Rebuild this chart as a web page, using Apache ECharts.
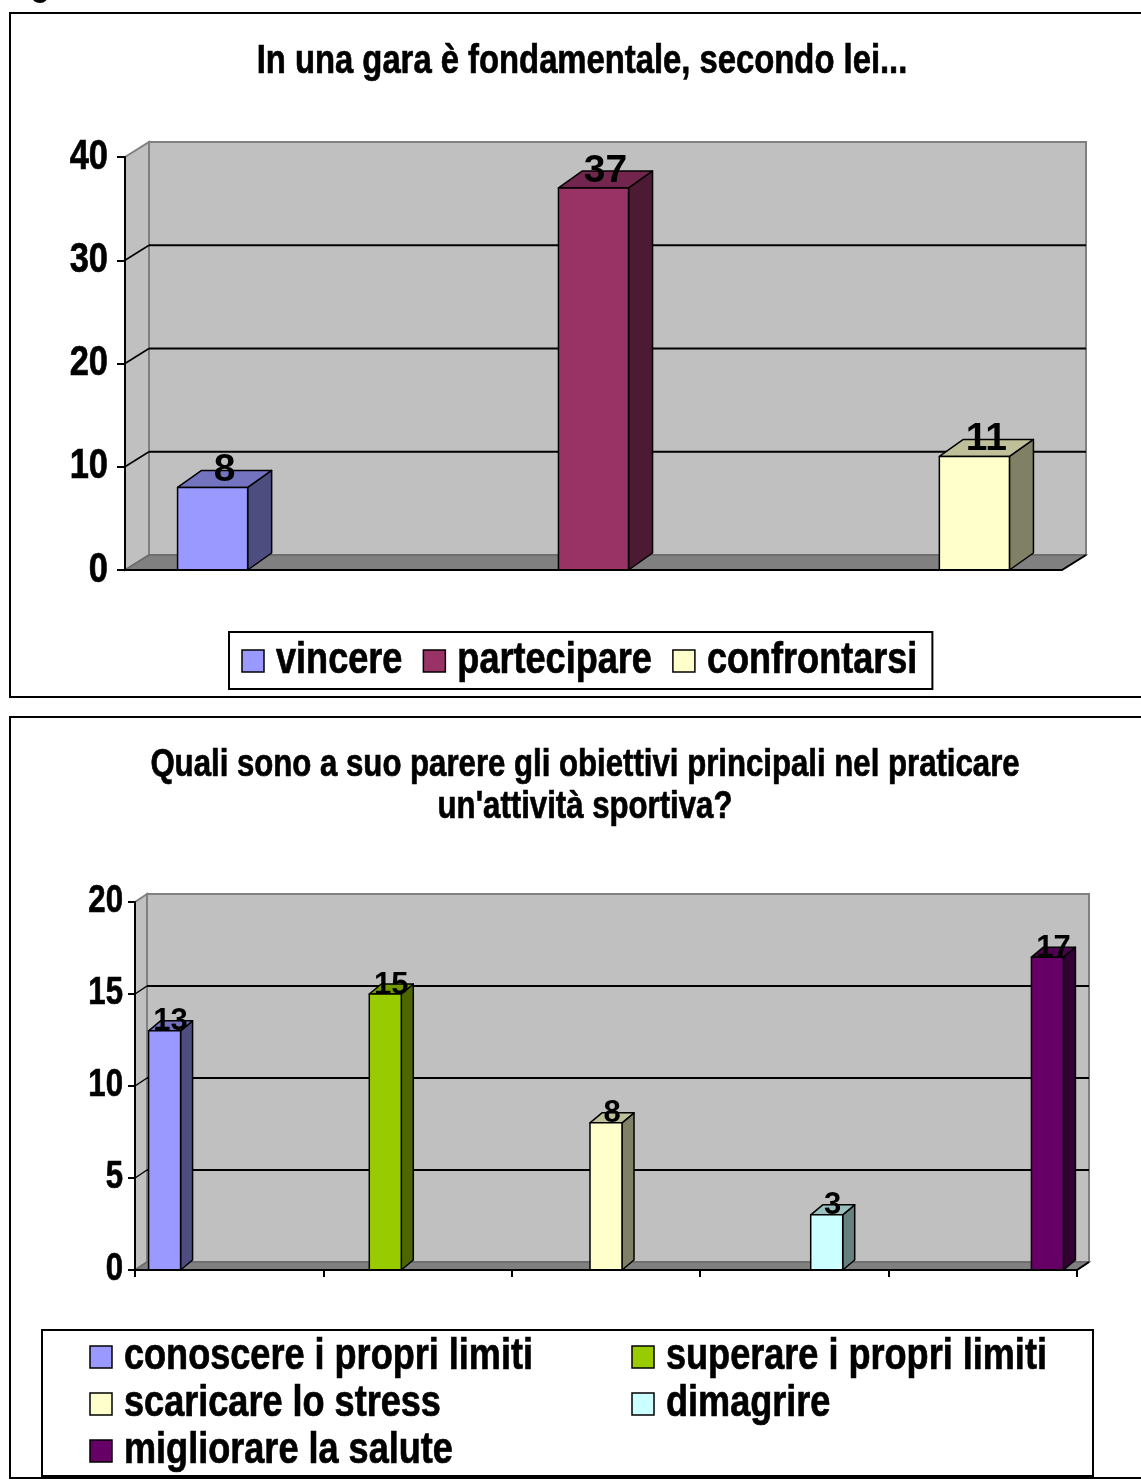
<!DOCTYPE html>
<html>
<head>
<meta charset="utf-8">
<script src="https://cdn.jsdelivr.net/npm/echarts@6/dist/echarts.min.js"></script>
<style>
  html, body { margin: 0; padding: 0; background: #fff; }
  #chart { width: 1141px; height: 1481px; }
</style>
</head>
<body>
<div id="chart"></div>
<script>
// ---- Chart 1: "In una gara è fondamentale, secondo lei..." ----
const garaTitle = 'In una gara è fondamentale, secondo lei...';
const garaCategories = ['vincere', 'partecipare', 'confrontarsi'];
const garaValues = [8, 37, 11];
const garaTicks = [0, 10, 20, 30, 40];
const garaColors = ['#9999ff', '#993366', '#ffffcc'];

// ---- Chart 2: obiettivi dell'attività sportiva ----
const obiettiviTitle = "Quali sono a suo parere gli obiettivi principali nel praticare\nun'attività sportiva?";
const obiettiviCategories = ['conoscere i propri limiti', 'superare i propri limiti', 'scaricare lo stress', 'dimagrire', 'migliorare la salute'];
const obiettiviValues = [13, 15, 8, 3, 17];
const obiettiviTicks = [0, 5, 10, 15, 20];
const obiettiviColors = ['#9999ff', '#99cc00', '#ffffcc', '#ccffff', '#660066'];

const SANS = "'Liberation Sans', Arial, sans-serif";
const NARROW_X = 0.82;   // horizontal squeeze for the narrow bold lettering
const HEAVY = { stroke: '#000', lineWidth: 0.7 };   // extra weight for the squeezed lettering

// x ranges of the hidden positioning axes (bars sit at 0..n-1)
const garaRange = [-0.23, 2.23];
const obiettiviRange = [-0.134, 4.134];

function shade(hex, f) {
  const n = parseInt(hex.slice(1), 16);
  const r = Math.round(((n >> 16) & 255) * f);
  const g = Math.round(((n >> 8) & 255) * f);
  const b = Math.round((n & 255) * f);
  return 'rgb(' + r + ',' + g + ',' + b + ')';
}

const measureCtx = document.createElement('canvas').getContext('2d');
function narrowWidth(text, size) {
  measureCtx.font = 'bold ' + size + 'px ' + SANS;
  return measureCtx.measureText(text).width * NARROW_X;
}

// Walls, floor, gridlines and tick labels of the 3D box, taken from the axis scales
function frameRenderer(xr, ticks, depth, labelSize, labelMargin) {
  return function (params, api) {
    const yMin = ticks[0], yMax = ticks[ticks.length - 1];
    const fl = api.coord([xr[0], yMin]);
    const fr = api.coord([xr[1], yMin]);
    const tl = api.coord([xr[0], yMax]);
    const dx = depth[0], dy = depth[1];
    const kids = [];
    kids.push({ type: 'polygon', shape: { points: [[fl[0], tl[1]], [fl[0], fl[1]], [fl[0] + dx, fl[1] + dy], [fl[0] + dx, tl[1] + dy]] },
      style: { fill: '#c0c0c0', stroke: '#808080', lineWidth: 2 } });
    kids.push({ type: 'rect', shape: { x: fl[0] + dx, y: tl[1] + dy, width: fr[0] - fl[0], height: fl[1] - tl[1] },
      style: { fill: '#c0c0c0', stroke: '#808080', lineWidth: 2 } });
    ticks.slice(1, -1).forEach(function (t) {
      const p = api.coord([xr[0], t]);
      kids.push({ type: 'line', shape: { x1: p[0] + dx, y1: p[1] + dy, x2: fr[0] + dx, y2: p[1] + dy },
        style: { stroke: '#000', lineWidth: 2 } });
      kids.push({ type: 'line', shape: { x1: p[0], y1: p[1], x2: p[0] + dx, y2: p[1] + dy },
        style: { stroke: '#000', lineWidth: 1.5 } });
    });
    kids.push({ type: 'polygon', shape: { points: [[fl[0], fl[1]], [fr[0], fr[1]], [fr[0] + dx, fr[1] + dy], [fl[0] + dx, fl[1] + dy]] },
      style: { fill: '#808080', stroke: '#6a6a6a', lineWidth: 1.5 } });
    kids.push({ type: 'line', shape: { x1: fr[0], y1: fr[1], x2: fr[0] + dx, y2: fr[1] + dy },
      style: { stroke: '#000', lineWidth: 2 } });
    ticks.forEach(function (t) {
      const p = api.coord([xr[0], t]);
      kids.push({ type: 'text', x: p[0] - labelMargin, y: p[1], scaleX: NARROW_X,
        style: Object.assign({ text: String(t), x: 0, y: 0, textAlign: 'right', textVerticalAlign: 'middle',
          font: 'bold ' + labelSize + 'px ' + SANS, fill: '#000' }, HEAVY) });
    });
    return { type: 'group', children: kids };
  };
}

// A 3D column: front face, shaded top and shaded side, with its value on top
function barRenderer(barWidth, depth, labelSize, labelLift) {
  return function (params, api) {
    const x = api.value(0), v = api.value(1);
    const b = api.coord([x, 0]);
    const t = api.coord([x, v]);
    const w = api.size([barWidth, 0])[0];
    const l = b[0] - w / 2, r = b[0] + w / 2;
    const dx = depth[0], dy = depth[1];
    const c = api.visual('color');
    const edge = { stroke: '#000', lineWidth: 1.5, lineJoin: 'round' };
    return {
      type: 'group',
      children: [
        { type: 'polygon', shape: { points: [[r, t[1]], [r + dx, t[1] + dy], [r + dx, b[1] + dy], [r, b[1]]] },
          style: Object.assign({ fill: shade(c, 0.5) }, edge) },
        { type: 'polygon', shape: { points: [[l, t[1]], [r, t[1]], [r + dx, t[1] + dy], [l + dx, t[1] + dy]] },
          style: Object.assign({ fill: shade(c, 0.75) }, edge) },
        { type: 'rect', shape: { x: l, y: t[1], width: w, height: b[1] - t[1] },
          style: Object.assign({ fill: c }, edge) },
        { type: 'text', x: b[0] + dx / 2, y: t[1] - labelLift,
          style: { text: String(v), textAlign: 'center', textVerticalAlign: 'middle',
            font: 'bold ' + labelSize + 'px ' + SANS, fill: '#000' } }
      ]
    };
  };
}

// Legend entry: bordered colour square followed by its name
function legendItem(x, yMid, color, name) {
  return [
    { type: 'rect', shape: { x: x, y: yMid - 11, width: 22, height: 22 }, silent: true,
      style: { fill: color, stroke: '#000', lineWidth: 1.5 } },
    { type: 'text', x: x + 34, y: yMid, scaleX: NARROW_X, silent: true,
      style: Object.assign({ text: name, x: 0, y: 0, font: 'bold 44px ' + SANS, fill: '#000', textAlign: 'left', textVerticalAlign: 'middle' }, HEAVY) }
  ];
}

const series = [];
series.push({ type: 'custom', name: '_frame1', xAxisIndex: 0, yAxisIndex: 0, silent: true, z: 1,
  renderItem: frameRenderer(garaRange, garaTicks, [24, -15], 42, 17), data: [[0, 0]] });
garaCategories.forEach(function (name, i) {
  series.push({ type: 'custom', name: name, xAxisIndex: 0, yAxisIndex: 0, z: 3,
    itemStyle: { color: garaColors[i] },
    renderItem: barRenderer(0.184, [24, -17], 39, 17), data: [[i, garaValues[i]]] });
});
series.push({ type: 'custom', name: '_frame2', xAxisIndex: 2, yAxisIndex: 1, silent: true, z: 1,
  renderItem: frameRenderer(obiettiviRange, obiettiviTicks, [12, -8], 38, 12), data: [[0, 0]] });
obiettiviCategories.forEach(function (name, i) {
  series.push({ type: 'custom', name: name, xAxisIndex: 2, yAxisIndex: 1, z: 3,
    itemStyle: { color: obiettiviColors[i] },
    renderItem: barRenderer(0.145, [12, -10], 31, 9), data: [[i, obiettiviValues[i]]] });
});

// Legend of chart 1: one row inside a bordered box
const graphics = [];
(function () {
  const boxLeft = 229, padL = 13, padR = 15, yMid = 661;
  let x = boxLeft + padL;
  const items = [];
  garaCategories.forEach(function (name, i) {
    items.push.apply(items, legendItem(x, yMid, garaColors[i], name));
    x += 34 + narrowWidth(name, 44) + 21;
  });
  const boxRight = x - 21 + padR;
  graphics.push({ type: 'rect', shape: { x: boxLeft, y: 632, width: boxRight - boxLeft, height: 57 }, silent: true,
    style: { fill: '#fff', stroke: '#000', lineWidth: 2 } });
  graphics.push.apply(graphics, items);
})();

// Legend of chart 2: two columns inside a bordered box
graphics.push({ type: 'rect', shape: { x: 42, y: 1330, width: 1051, height: 146 }, silent: true,
  style: { fill: '#fff', stroke: '#000', lineWidth: 2 } });
obiettiviCategories.forEach(function (name, i) {
  const col = i % 2, row = Math.floor(i / 2);
  graphics.push.apply(graphics, legendItem(col === 0 ? 90 : 632, 1357 + row * 47, obiettiviColors[i], name));
});

const axisLine = { show: true, onZero: false, lineStyle: { color: '#000', width: 2 } };

const option = {
  animation: false,
  backgroundColor: '#fff',
  grid: [
    { left: 125, top: 157, width: 937, height: 413 },
    { left: 135, top: 902, width: 942, height: 368 }
  ],
  xAxis: [
    { gridIndex: 0, type: 'value', min: garaRange[0], max: garaRange[1], z: 10,
      axisLine: axisLine, axisTick: { show: false }, axisLabel: { show: false }, splitLine: { show: false } },
    { gridIndex: 1, type: 'category', data: obiettiviCategories.map(function () { return ''; }), z: 10,
      axisLine: axisLine, axisTick: { show: true, length: 7, lineStyle: { color: '#000', width: 2 } },
      axisLabel: { show: false }, splitLine: { show: false } },
    { gridIndex: 1, type: 'value', min: obiettiviRange[0], max: obiettiviRange[1], show: false }
  ],
  yAxis: [
    { gridIndex: 0, type: 'value', min: garaTicks[0], max: garaTicks[garaTicks.length - 1], interval: garaTicks[1] - garaTicks[0], z: 10,
      axisLine: axisLine, axisTick: { show: true, length: 8, lineStyle: { color: '#000', width: 2 } },
      axisLabel: { show: false }, splitLine: { show: false } },
    { gridIndex: 1, type: 'value', min: obiettiviTicks[0], max: obiettiviTicks[obiettiviTicks.length - 1], interval: obiettiviTicks[1] - obiettiviTicks[0], z: 10,
      axisLine: axisLine, axisTick: { show: true, length: 7, lineStyle: { color: '#000', width: 2 } },
      axisLabel: { show: false }, splitLine: { show: false } }
  ],
  graphic: [
    { type: 'text', x: 1, y: -36, silent: true, scaleX: NARROW_X,
      style: { text: 'Fig', x: 0, y: 0, font: 'bold 40px ' + SANS, fill: '#000', textVerticalAlign: 'top' } },
    { type: 'rect', shape: { x: 10, y: 13, width: 1145, height: 684 }, silent: true,
      style: { fill: 'none', stroke: '#000', lineWidth: 2 } },
    { type: 'rect', shape: { x: 10, y: 717, width: 1145, height: 761 }, silent: true,
      style: { fill: 'none', stroke: '#000', lineWidth: 2 } },
    { type: 'text', x: 582, y: 42, silent: true, scaleX: NARROW_X,
      style: Object.assign({ text: garaTitle, x: 0, y: 0, font: 'bold 40px ' + SANS, fill: '#000', textAlign: 'center', textVerticalAlign: 'top' }, HEAVY) },
    { type: 'text', x: 585, y: 745, silent: true, scaleX: NARROW_X,
      style: Object.assign({ text: obiettiviTitle, x: 0, y: 0, font: 'bold 38px ' + SANS, fill: '#000', textAlign: 'center', textVerticalAlign: 'top', lineHeight: 42 }, HEAVY) }
  ].concat(graphics),
  series: series
};

const chart = echarts.init(document.getElementById('chart'), null, { renderer: 'canvas' });
chart.setOption(option);
</script>
</body>
</html>
